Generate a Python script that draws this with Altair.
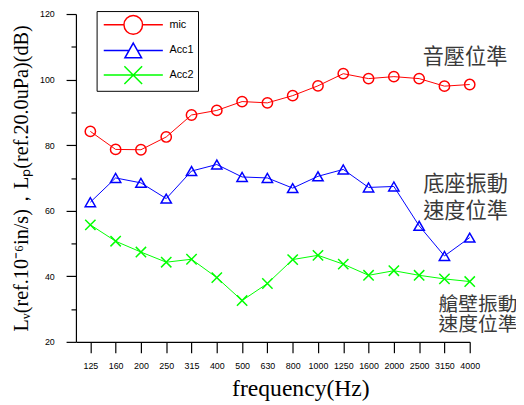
import json
import altair as alt
import pandas as pd

freqs = ["125", "160", "200", "250", "315", "400", "500", "630", "800",
         "1000", "1250", "1600", "2000", "2500", "3150", "4000"]
mic = [84.2, 78.7, 78.6, 82.5, 89.2, 90.6, 93.3, 92.9, 95.1, 98.1,
       101.8, 100.3, 100.9, 100.3, 98.0, 98.5]
acc1 = [62.6, 70.0, 68.5, 63.7, 72.1, 74.1, 70.3, 70.0, 66.9, 70.5,
        72.6, 67.1, 67.4, 55.4, 46.2, 51.8]
acc2 = [55.7, 50.7, 47.4, 44.3, 45.2, 39.6, 32.6, 37.8, 45.1, 46.4,
        43.7, 40.3, 41.7, 40.3, 39.2, 38.4]
series_names = ["mic", "Acc1", "Acc2"]
series_colors = ["#ff0000", "#0000ff", "#00ff00"]

upper_notes_text = ["音壓位準", "底座振動", "速度位準"]
upper_notes_idx = [13.14, 13.16, 13.16]
upper_notes_val = [106.7, 67.8, 59.5]
lower_notes_text = ["艙壁振動", "速度位準"]
lower_notes_idx = [13.77, 13.77]
lower_notes_val = [31.2, 25.2]

rows = []
for name, vals in zip(series_names, [mic, acc1, acc2]):
    for i, v in enumerate(vals):
        rows.append({"series": name, "idx": i, "freq": freqs[i], "value": v})
df = pd.DataFrame(rows)
upper_df = pd.DataFrame({"text": upper_notes_text, "idx": upper_notes_idx, "value": upper_notes_val})
lower_df = pd.DataFrame({"text": lower_notes_text, "idx": lower_notes_idx, "value": lower_notes_val})
legend_df = pd.DataFrame({"series": series_names})

x_marker = "M-1,-1L1,1M-1,1L1,-1"
point_shapes = ["circle", "triangle-up", x_marker]
legend_paths = [
    "M-0.75,0H1.53M3.63,0H5.92M3.63,0A1.05,1.05,0,1,1,1.53,0A1.05,1.05,0,1,1,3.63,0Z",
    "M-0.75,0H2.11M3.05,0H5.92M2.58,-0.83L3.52,0.83L1.64,0.83Z",
    "M-0.75,0H5.92M1.58,-1.0L3.58,1.0M1.58,1.0L3.58,-1.0",
]

label_expr = json.dumps(freqs) + "[datum.value]"

x_enc = alt.X(
    "idx:Q",
    scale=alt.Scale(domain=[-0.57, 15], nice=False, zero=False),
    axis=alt.Axis(
        values=list(range(16)), labelExpr=label_expr, tickSize=11, labelPadding=9,
        labelFontSize=9, labelFont="Liberation Sans", labelColor="black",
        domainColor="black", tickColor="black", domainWidth=1.2, tickWidth=1.2,
        grid=False, labelFlush=False, labelOverlap=False,
        title="frequency(Hz)", titleFont="Liberation Serif", titleFontSize=24,
        titleFontWeight="normal", titleColor="black", titlePadding=6, titleX=228,
    ),
)
y_enc = alt.Y(
    "value:Q",
    scale=alt.Scale(domain=[20, 120], nice=False, zero=False),
    axis=alt.Axis(
        values=list(range(20, 121, 10)),
        labelExpr="datum.value % 20 === 0 ? datum.label : ''",
        tickSize={"condition": {"test": "datum.value % 20 === 0", "value": 10}, "value": 5},
        labelPadding=12, labelFontSize=9, labelFont="Liberation Sans", labelColor="black",
        domainColor="black", tickColor="black", domainWidth=1.2, tickWidth=1.2,
        grid=False, labelFlush=False,
        title="Lᵥ(ref.10⁻⁶in/s)，Lₚ(ref.20.0uPa)(dB)", titleFont="Liberation Serif",
        titleFontSize=20.5, titleFontWeight="normal", titleColor="black", titlePadding=8,
    ),
)

color_nolegend = alt.Color("series:N", scale=alt.Scale(domain=series_names, range=series_colors), legend=None)

lines = alt.Chart(df).mark_line(strokeWidth=1).encode(
    x=x_enc, y=y_enc, color=color_nolegend, detail="series:N"
)
points = alt.Chart(df).mark_point(filled=False, strokeWidth=1.5, size=110, opacity=1).encode(
    x=x_enc, y=y_enc, color=color_nolegend,
    shape=alt.Shape("series:N", scale=alt.Scale(domain=series_names, range=point_shapes), legend=None),
)
upper_notes = alt.Chart(upper_df).mark_text(
    align="left", baseline="middle", font="Noto Sans CJK TC", fontSize=21.5, color="#3a3a3a"
).encode(x=x_enc, y=y_enc, text="text:N")
lower_notes = alt.Chart(lower_df).mark_text(
    align="left", baseline="middle", font="Noto Sans CJK TC", fontSize=20, color="#3a3a3a"
).encode(x=x_enc, y=y_enc, text="text:N")

leg = alt.Legend(
    title=None, orient="none", legendX=21, legendY=-3, strokeColor="black", fillColor="white",
    padding=4, symbolSize=324, symbolStrokeWidth=1.5, labelFontSize=11,
    labelFont="Liberation Sans", labelColor="black", labelOffset=50, rowPadding=2,
)
legend_layer = alt.Chart(legend_df).transform_filter("false").mark_point(
    filled=False, strokeWidth=1.5, opacity=1
).encode(
    color=alt.Color("series:N", scale=alt.Scale(domain=series_names, range=series_colors), legend=leg),
    shape=alt.Shape("series:N", scale=alt.Scale(domain=series_names, range=legend_paths), legend=leg),
)

chart = alt.layer(lines, points, upper_notes, lower_notes, legend_layer).resolve_scale(
    color="independent", shape="independent"
).properties(
    width=400, height=333,
    autosize=alt.AutoSizeParams(type="none"),
    padding={"left": 69, "top": 3, "right": 47, "bottom": 60},
    background="white",
).configure_view(stroke=None)

chart.save("out.html", embed_options={"renderer": "svg", "actions": False})
